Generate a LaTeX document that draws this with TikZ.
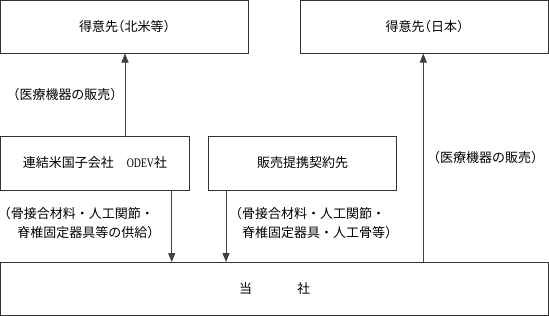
\documentclass[tikz,border=0pt]{standalone}
\usepackage{fontspec}
\usepackage{graphicx}
\setmainfont{Noto Sans CJK JP}
\newfontfamily\latinserif{Liberation Serif}
\newfontfamily\cjkhalt[RawFeature=+halt]{Noto Sans CJK JP}
\usetikzlibrary{arrows.meta}
\newcommand{\lpar}{{\cjkhalt （}}
\newcommand{\rpar}{{\cjkhalt ）}}
\begin{document}
\begin{tikzpicture}[x=1pt,y=-1pt,
  box/.style={draw=black!80, line width=0.8pt, inner sep=0pt, outer sep=0pt},
  lbl/.style={inner sep=0pt, outer sep=0pt, align=left},
  arr/.style={draw=black!75, line width=0.8pt, -{Triangle[length=9pt,width=7pt]}},
  font=\fontsize{13pt}{19pt}\selectfont]
\useasboundingbox (0,0) rectangle (549,316);
% boxes
\node[box, minimum width=248pt, minimum height=53pt] (A) at (124.5,27) {得意先\lpar 北米等\rpar};
\node[box, minimum width=248pt, minimum height=53pt] (B) at (424.5,27) {得意先\lpar 日本\rpar};
\node[box, minimum width=189pt, minimum height=54pt] (C) at (95,163) {連結米国子会社　\scalebox{0.75}[1]{\latinserif ODEV}社};
\node[box, minimum width=188pt, minimum height=54pt] (D) at (302.5,163) {販売提携契約先};
\node[box, minimum width=548pt, minimum height=53.5pt] (E) at (274.5,288.75) {当\hspace{45pt}社};
% arrow positions
\coordinate (x1) at (125,0);
\coordinate (x2) at (171.7,0);
\coordinate (x3) at (226,0);
\coordinate (x4) at (423.3,0);
\draw[arr] (C.north -| x1) -- (A.south -| x1);
\draw[arr] (C.south -| x2) -- (E.north -| x2);
\draw[arr] (D.south -| x3) -- (E.north -| x3);
\draw[arr] (E.north -| x4) -- (B.south -| x4);
% labels
\node[lbl] (l1) at (65,95) {\lpar 医療機器の販売\rpar};
\node[lbl] (l2) at (485.5,158) {\lpar 医療機器の販売\rpar};
\node[lbl, anchor=west] (l3) at (4.5,223.5) {\lpar 骨接合材料・人工関節・\\\hspace*{1em}脊椎固定器具等の供給\rpar};
\node[lbl, anchor=west] (l4) at (235.5,223.5) {\lpar 骨接合材料・人工関節・\\\hspace*{0.5em}脊椎固定器具・人工骨等\rpar};
\end{tikzpicture}
\end{document}
